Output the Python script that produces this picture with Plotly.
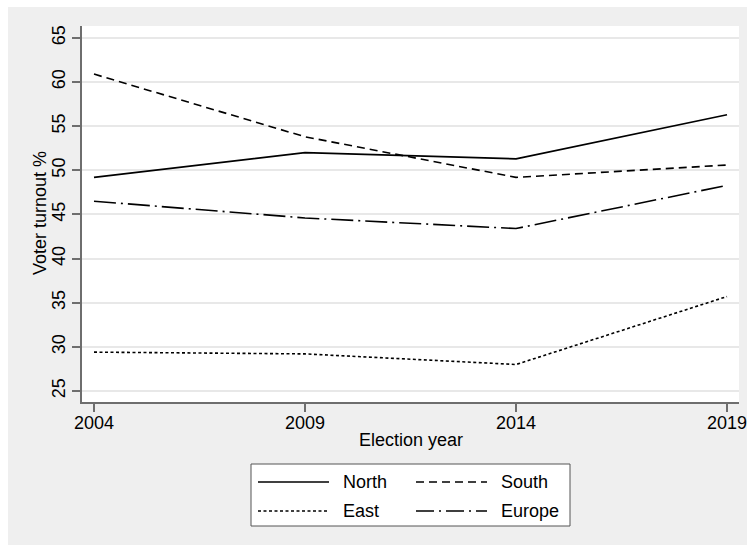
import plotly.graph_objects as go

# Election years and turnout (%) by region
years = [2004, 2009, 2014, 2019]
north = [49.2, 52.0, 51.3, 56.3]
south = [60.9, 53.8, 49.2, 50.6]
east = [29.4, 29.2, 28.0, 35.7]
europe = [46.5, 44.6, 43.4, 48.3]

series_names = ["North", "South", "East", "Europe"]
series_values = [north, south, east, europe]
series_dash = ["solid", "8px,5px", "3px,2.5px", "22px,5px,2px,5px"]
legend_dash = ["solid", "8px,5px", "3px,2.5px", "18px,5px,2px,5px"]

y_ticks = [25, 30, 35, 40, 45, 50, 55, 60, 65]

W, H = 747, 545
L, R, T, B = 82, 8, 26, 143
PW, PH = W - L - R, H - T - B

FONT = "Liberation Sans, Arial, Helvetica, sans-serif"
BG = "#efefef"
AXIS = "#6e6e6e"


def px_x(px):
    return (px - L) / PW


def px_y(py):
    return (H - B - py) / PH


fig = go.Figure()
for name, vals, dash in zip(series_names, series_values, series_dash):
    fig.add_trace(go.Scatter(
        x=years, y=vals, mode="lines", name=name,
        line=dict(color="black", width=1.6, dash=dash),
        showlegend=False,
    ))

shapes = [
    # white frame strips at top and left of the grey page
    dict(type="rect", xref="paper", yref="paper", x0=px_x(0), x1=px_x(W),
         y0=px_y(7), y1=px_y(-2), fillcolor="white", line_width=0, layer="below"),
    dict(type="rect", xref="paper", yref="paper", x0=px_x(-2), x1=px_x(8),
         y0=px_y(H + 2), y1=px_y(0), fillcolor="white", line_width=0, layer="below"),
    # legend box
    dict(type="rect", xref="paper", yref="paper", x0=px_x(251), x1=px_x(570),
         y0=px_y(526), y1=px_y(464), fillcolor="white",
         line=dict(color="#555555", width=1)),
]

annotations = [
    dict(xref="paper", yref="paper", x=px_x(410.5), y=px_y(440), text="Election year",
         showarrow=False, xanchor="center", yanchor="middle",
         font=dict(family=FONT, size=18, color="black")),
    dict(xref="paper", yref="paper", x=px_x(40), y=px_y(213), text="Voter turnout %",
         showarrow=False, xanchor="center", yanchor="middle", textangle=-90,
         font=dict(family=FONT, size=18, color="black")),
]
legend_pos = [(258, 482), (416, 482), (258, 511), (416, 511)]
for (lx, ly), name, dash in zip(legend_pos, series_names, legend_dash):
    shapes.append(dict(type="line", xref="paper", yref="paper",
                       x0=px_x(lx), x1=px_x(lx + 71), y0=px_y(ly), y1=px_y(ly),
                       line=dict(color="black", width=1.6, dash=dash)))
    annotations.append(dict(xref="paper", yref="paper", x=px_x(lx + 83), y=px_y(ly),
                            text=name, showarrow=False, xanchor="left", yanchor="middle",
                            font=dict(family=FONT, size=18, color="black")))

fig.update_layout(
    width=W, height=H,
    margin=dict(l=L, r=R, t=T, b=B, pad=0, autoexpand=False),
    paper_bgcolor=BG, plot_bgcolor="white",
    font=dict(family=FONT, size=18, color="black"),
    shapes=shapes, annotations=annotations,
    showlegend=False,
)

fig.update_xaxes(
    range=[2003.716, 2019.284], tickvals=years, ticktext=[str(y) for y in years],
    showgrid=False, zeroline=False, automargin=False,
    showline=True, linecolor=AXIS, linewidth=1.5,
    ticks="outside", ticklen=8, tickcolor=AXIS, tickwidth=1.5,
    tickfont=dict(family=FONT, size=18),
    ticklabeloverflow="allow", ticklabelstandoff=-4,
)
fig.update_yaxes(
    range=[23.75, 66.35], tickvals=y_ticks, ticktext=[str(v) for v in y_ticks],
    tickangle=-90,
    showgrid=True, gridcolor="#e8e8e8", gridwidth=1.5, zeroline=False, automargin=False,
    showline=True, linecolor=AXIS, linewidth=1.5,
    ticks="outside", ticklen=8, tickcolor=AXIS, tickwidth=1.5,
    tickfont=dict(family=FONT, size=18),
    ticklabeloverflow="allow",
)

fig.write_html("out.html")
